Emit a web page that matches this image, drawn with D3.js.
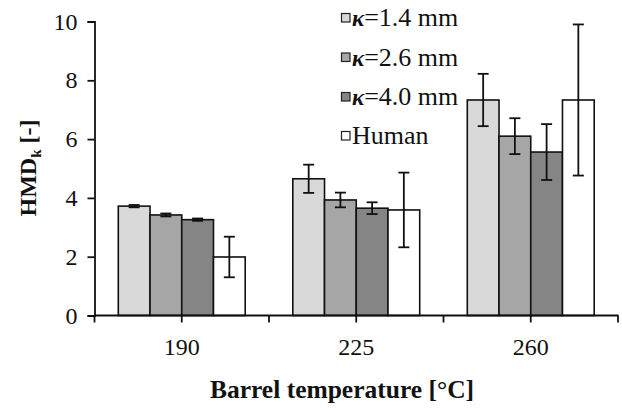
<!DOCTYPE html>
<html><head><meta charset="utf-8">
<script src="https://cdn.jsdelivr.net/npm/d3@7"></script>
<style>
html,body{margin:0;padding:0;background:#fff;}
svg{display:block;}
</style></head>
<body>
<svg id="c" width="622" height="408"></svg>
<script>
const categories = ["190", "225", "260"];
const seriesNames = ["κ=1.4 mm", "κ=2.6 mm", "κ=4.0 mm", "Human"];
const s14 = [3.72, 4.65, 7.33];
const s26 = [3.42, 3.93, 6.10];
const s40 = [3.26, 3.65, 5.56];
const human = [1.99, 3.59, 7.33];
const e14 = [0.04, 0.48, 0.89];
const e26 = [0.05, 0.25, 0.61];
const e40 = [0.04, 0.20, 0.95];
const eHuman = [0.69, 1.27, 2.57];
const yTicks = [0, 2, 4, 6, 8, 10];
const colors = ["#d9d9d9", "#a6a6a6", "#858585", "#ffffff"];

const values = [s14, s26, s40, human];
const errs = [e14, e26, e40, eHuman];
const FONT = "'Liberation Serif', serif";

const svg = d3.select("#c");
const x = d3.scaleBand().domain(categories).range([94.5, 618]).padding(0);
const barW = x.bandwidth() / 5.5;
const xs = d3.scaleBand().domain(d3.range(4)).range([0, barW * 4]).padding(0);
const y = d3.scaleLinear().domain([0, 10]).range([315.5, 21.5]);

// bars
categories.forEach((c, ci) => {
  const g = svg.append("g").attr("transform", `translate(${x(c) + (x.bandwidth() - barW * 4) / 2},0)`);
  values.forEach((vals, si) => {
    g.append("rect")
      .attr("x", xs(si)).attr("width", xs.bandwidth())
      .attr("y", y(vals[ci])).attr("height", y(0) - y(vals[ci]))
      .attr("fill", colors[si]).attr("stroke", "#111").attr("stroke-width", 1.6);
  });
  values.forEach((vals, si) => {
    const cx = xs(si) + xs.bandwidth() / 2;
    const hi = y(vals[ci] + errs[si][ci]), lo = y(vals[ci] - errs[si][ci]);
    g.append("line").attr("x1", cx).attr("x2", cx).attr("y1", hi).attr("y2", lo)
      .attr("stroke", "#111").attr("stroke-width", 1.8);
    [hi, lo].forEach(yy => g.append("line").attr("x1", cx - 5.5).attr("x2", cx + 5.5)
      .attr("y1", yy).attr("y2", yy).attr("stroke", "#111").attr("stroke-width", 1.8));
  });
});

// y axis
const yAxis = svg.append("g").attr("transform", "translate(94.5,0)")
  .call(d3.axisLeft(y).tickValues(yTicks).tickSize(7).tickPadding(10).tickFormat(d3.format("d")));
yAxis.attr("font-family", FONT).attr("font-size", 24);
yAxis.select(".domain").attr("stroke", "#111").attr("stroke-width", 1.8);
yAxis.selectAll(".tick line").attr("stroke", "#111").attr("stroke-width", 1.8);
yAxis.selectAll("text").attr("fill", "#111").style("font-family", FONT).style("font-size", "24px");

// x axis: ticks at boundaries and centers
const xAxisG = svg.append("g").attr("transform", `translate(0,${y(0)})`);
xAxisG.append("line").attr("x1", 94.5).attr("x2", 618.5).attr("y1", 0).attr("y2", 0)
  .attr("stroke", "#111").attr("stroke-width", 1.8);
const tickPos = [];
categories.forEach(c => { tickPos.push(x(c)); tickPos.push(x(c) + x.bandwidth() / 2); });
tickPos.push(x.range()[1]);
xAxisG.selectAll("line.t").data(tickPos).join("line").attr("class", "t")
  .attr("x1", d => d).attr("x2", d => d).attr("y1", 0).attr("y2", 7)
  .attr("stroke", "#111").attr("stroke-width", 1.8);
xAxisG.selectAll("text.l").data(categories).join("text").attr("class", "l")
  .attr("x", d => x(d) + x.bandwidth() / 2).attr("y", 39)
  .attr("text-anchor", "middle").attr("fill", "#111")
  .style("font-family", FONT).style("font-size", "24px").text(d => d);

// axis titles
svg.append("text").attr("x", 342).attr("y", 398).attr("text-anchor", "middle").attr("fill", "#111")
  .style("font-family", FONT).style("font-size", "25.5px").style("font-weight", "bold").text("Barrel temperature [°C]");
const yt = svg.append("text").attr("transform", "translate(36,168) rotate(-90)").attr("fill", "#111")
  .attr("text-anchor", "middle").style("font-family", FONT).style("font-size", "24px").style("font-weight", "bold");
yt.append("tspan").text("HMD");
yt.append("tspan").attr("dy", 5).style("font-size", "15px").text("k");
yt.append("tspan").attr("dy", -5).text(" [-]");

// legend
const leg = svg.append("g").attr("transform", "translate(341,0)");
const rowY = [18, 57.5, 97, 136];
seriesNames.forEach((n, i) => {
  const r = leg.append("g").attr("transform", `translate(0,${rowY[i]})`);
  r.append("rect").attr("x", 0.5).attr("y", -4.5).attr("width", 8.5).attr("height", 8.5)
    .attr("fill", colors[i]).attr("stroke", "#222").attr("stroke-width", 1.2);
  const t = r.append("text").attr("x", 11).attr("y", 8).attr("fill", "#111")
    .style("font-family", FONT).style("font-size", "26px");
  if (n.startsWith("κ")) {
    t.append("tspan").style("font-weight", "bold").style("font-style", "italic").style("font-size", "23px").text("κ");
    t.append("tspan").text(n.slice(1));
  } else {
    t.text(n);
  }
});
</script>
</body></html>
